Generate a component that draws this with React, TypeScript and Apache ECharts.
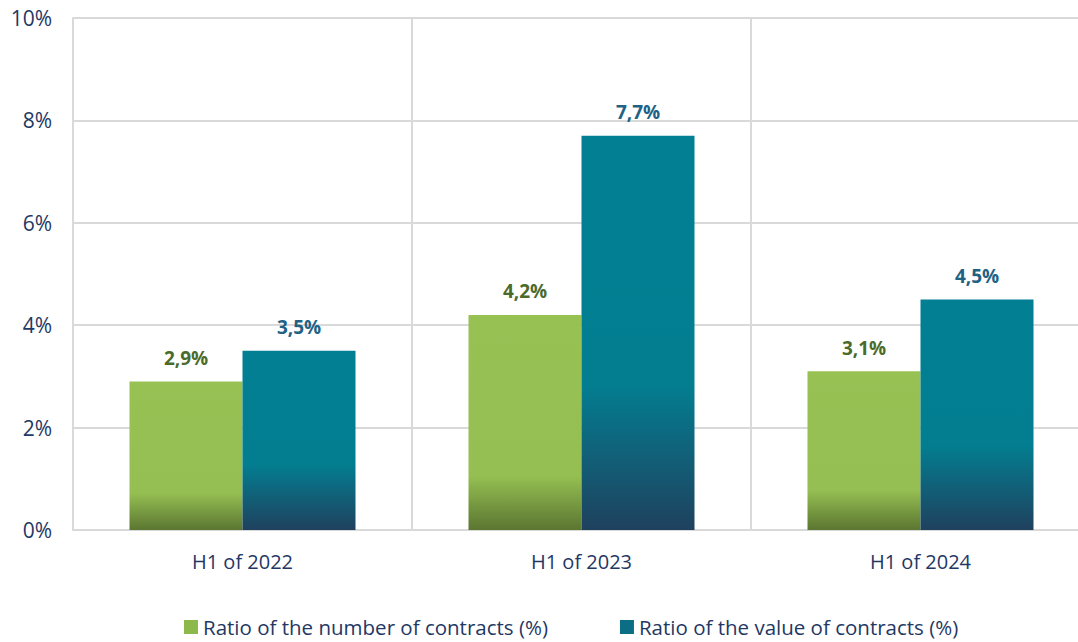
import React, { useEffect, useRef } from "react";
import * as echarts from "echarts";

const categories = ["H1 of 2022", "H1 of 2023", "H1 of 2024"];
const numberRatio = [2.9, 4.2, 3.1];
const valueRatio = [3.5, 7.7, 4.5];
const seriesNames = ["Ratio of the number of contracts (%)", "Ratio of the value of contracts (%)"];
const yTicks = { min: 0, max: 10, interval: 2 };

const FONT = "'Open Sans', 'Noto Sans', sans-serif";
const NAVY = "#1F3864";

const fmt = (v: number) => v.toFixed(1).replace(".", ",") + "%";

export default function App() {
  const ref = useRef<HTMLDivElement>(null);
  useEffect(() => {
    if (!ref.current) return;
    const chart = echarts.init(ref.current, undefined, { renderer: "svg" });
    const greenGrad = new echarts.graphic.LinearGradient(0, 0, 0, 1, [
      { offset: 0, color: "#97C153" },
      { offset: 0.75, color: "#95BF52" },
      { offset: 1, color: "#5B7631" },
    ]);
    const tealGrad = new echarts.graphic.LinearGradient(0, 0, 0, 1, [
      { offset: 0, color: "#027F93" },
      { offset: 0.63, color: "#037E91" },
      { offset: 1, color: "#1F415E" },
    ]);
    chart.setOption({
      animation: false,
      textStyle: { fontFamily: FONT },
      grid: { left: 73, right: 0, top: 18, bottom: 112, containLabel: false },
      legend: {
        left: 184,
        top: 616,
        padding: 0,
        itemWidth: 14,
        itemHeight: 14,
        itemGap: 72,
        icon: "rect",
        textStyle: { color: NAVY, fontSize: 20.5, fontFamily: FONT, lineHeight: 22 },
        data: [
          { name: seriesNames[0], itemStyle: { color: "#8DB84A" } },
          { name: seriesNames[1], itemStyle: { color: "#0B6E84" } },
        ],
      },
      xAxis: {
        type: "category",
        data: categories,
        axisLine: { show: true, lineStyle: { color: "#D9D9D9", width: 2 } },
        axisTick: { show: false },
        splitLine: { show: true, lineStyle: { color: "#D9D9D9", width: 2 } },
        axisLabel: { color: NAVY, fontSize: 20, margin: 21, fontFamily: FONT },
      },
      yAxis: {
        type: "value",
        min: yTicks.min,
        max: yTicks.max,
        interval: yTicks.interval,
        axisLine: { show: true, lineStyle: { color: "#D9D9D9", width: 2 } },
        axisTick: { show: false },
        splitLine: { lineStyle: { color: "#D9D9D9", width: 2 } },
        axisLabel: { color: NAVY, fontSize: 21, margin: 21, fontFamily: FONT, formatter: (v: number) => v + "%" },
      },
      series: [
        {
          name: seriesNames[0],
          type: "bar",
          data: numberRatio,
          barWidth: 113,
          barGap: "0%",
          itemStyle: { color: greenGrad },
          label: {
            show: true,
            position: "top",
            distance: 14,
            color: "#4B6B2B",
            fontWeight: "bold",
            fontSize: 19,
            fontFamily: FONT,
            formatter: (p: any) => fmt(p.value),
          },
        },
        {
          name: seriesNames[1],
          type: "bar",
          data: valueRatio,
          barWidth: 113,
          barGap: "0%",
          itemStyle: { color: tealGrad },
          label: {
            show: true,
            position: "top",
            distance: 14,
            color: "#216284",
            fontWeight: "bold",
            fontSize: 19,
            fontFamily: FONT,
            formatter: (p: any) => fmt(p.value),
          },
        },
      ],
    });
    return () => chart.dispose();
  }, []);
  return (
    <div style={{ position: "fixed", left: 0, top: 0, width: 1078, height: 642, overflow: "hidden", background: "#fff" }}>
      <div ref={ref} style={{ width: 1090, height: 642 }} />
    </div>
  );
}
